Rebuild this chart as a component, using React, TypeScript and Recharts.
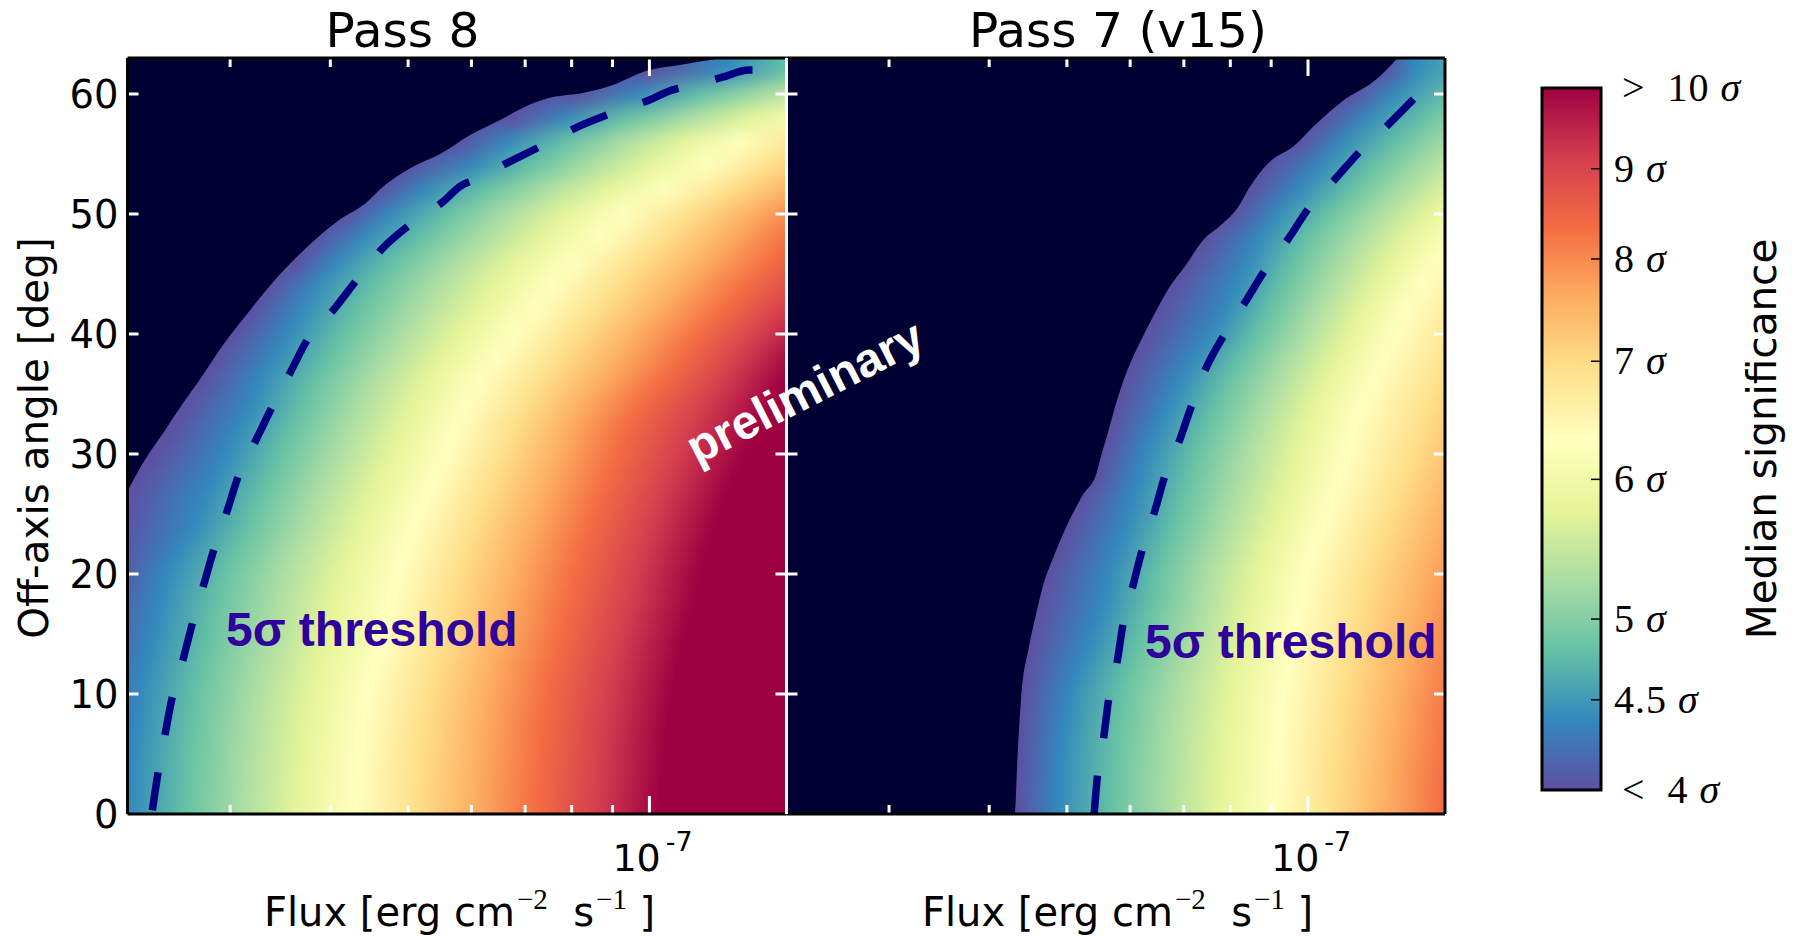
import React from "react";
import {
	ComposedChart,
	XAxis,
	YAxis,
	Area,
	Line,
	ReferenceArea,
	ReferenceLine,
} from "recharts";

// flux is kept as log10(erg cm-2 s-1)
const FLUX_DOMAIN = [-7.651, -6.829];
const ANGLE_MAX = 63;
const MINOR_FLUX = [-7.523, -7.398, -7.301, -7.222, -7.155, -7.097, -7.046];
const MAJOR_FLUX = [-7];
const ANGLE_TICKS = [0, 10, 20, 30, 40, 50, 60];

const SPECTRAL = [
	"#5e4fa2", "#3288bd", "#66c2a5", "#abdda4", "#e6f598", "#ffffbf",
	"#fee08b", "#fdae61", "#f46d43", "#d53e4f", "#9e0142",
];
// which colormap stops lie between two neighbouring contours
const BANDS = [
	[0, 1],
	[1, 2, 3, 4, 5],
	[5, 6, 7, 8],
	[8, 9, 10],
];

const ROW_ANGLES = [
	0, 2, 4, 6, 8, 10, 12, 14, 16, 18, 20, 22, 24, 26, 28, 30,
	32, 34, 36, 38, 40, 42, 44, 46, 48, 50, 52, 54, 56, 58, 60, 62,
];

// Pass 8: flux at which each colour is reached, one value per row
const p8Purple = [
	-7.728, -7.725, -7.722, -7.72, -7.714, -7.709, -7.703, -7.698, -7.689, -7.681, -7.673, -7.668, -7.662, -7.655, -7.639, -7.618,
	-7.599, -7.582, -7.56, -7.543, -7.522, -7.497, -7.475, -7.442, -7.418, -7.379, -7.338, -7.302, -7.239, -7.173, -7.091, -7.0,
];
const p8Blue = [
	-7.651, -7.648, -7.647, -7.644, -7.641, -7.637, -7.632, -7.625, -7.618, -7.612, -7.604, -7.588, -7.569, -7.56, -7.544, -7.531,
	-7.516, -7.5, -7.489, -7.47, -7.453, -7.437, -7.42, -7.393, -7.36, -7.327, -7.283, -7.223, -7.179, -7.107, -7.014, -6.904,
];
const p8Yellow = [
	-7.368, -7.367, -7.364, -7.361, -7.357, -7.352, -7.344, -7.333, -7.327, -7.321, -7.313, -7.304, -7.293, -7.28, -7.268, -7.253,
	-7.242, -7.228, -7.212, -7.19, -7.168, -7.143, -7.121, -7.097, -7.061, -7.033, -6.981, -6.929, -6.888, -6.795, -6.696, -6.602,
];
const p8Orange = [
	-7.143, -7.142, -7.139, -7.137, -7.134, -7.129, -7.124, -7.116, -7.109, -7.102, -7.095, -7.087, -7.077, -7.066, -7.055, -7.044,
	-7.033, -7.014, -6.987, -6.962, -6.94, -6.91, -6.882, -6.849, -6.825, -6.789, -6.74, -6.69, -6.635, -6.575, -6.493, -6.41,
];
const p8Deep = [
	-6.99, -6.987, -6.984, -6.981, -6.977, -6.973, -6.967, -6.96, -6.952, -6.944, -6.938, -6.93, -6.92, -6.91, -6.897, -6.883,
	-6.866, -6.85, -6.833, -6.814, -6.784, -6.751, -6.707, -6.668, -6.63, -6.586, -6.542, -6.498, -6.438, -6.372, -6.3, -6.218,
];

// Pass 7 (v15)
const p7Purple = [
	-7.366, -7.365, -7.364, -7.362, -7.36, -7.358, -7.354, -7.349, -7.343, -7.335, -7.326, -7.314, -7.301, -7.287, -7.267, -7.258,
	-7.248, -7.24, -7.231, -7.219, -7.205, -7.19, -7.172, -7.149, -7.129, -7.095, -7.075, -7.053, -7.012, -6.982, -6.944, -6.905,
];
const p7Blue = [
	-7.314, -7.313, -7.311, -7.309, -7.305, -7.3, -7.289, -7.276, -7.265, -7.256, -7.251, -7.24, -7.229, -7.221, -7.213, -7.204,
	-7.191, -7.177, -7.163, -7.144, -7.122, -7.105, -7.092, -7.078, -7.064, -7.042, -7.012, -6.987, -6.96, -6.93, -6.897, -6.867,
];
const p7Yellow = [
	-7.042, -7.041, -7.04, -7.037, -7.034, -7.031, -7.026, -7.02, -7.015, -7.009, -7.004, -6.993, -6.982, -6.971, -6.96, -6.952,
	-6.944, -6.933, -6.919, -6.905, -6.891, -6.878, -6.858, -6.839, -6.815, -6.787, -6.754, -6.718, -6.677, -6.633, -6.584, -6.529,
];
const p7Orange = [
	-6.834, -6.831, -6.828, -6.824, -6.82, -6.815, -6.808, -6.801, -6.793, -6.784, -6.776, -6.766, -6.755, -6.743, -6.73, -6.713,
	-6.696, -6.683, -6.669, -6.653, -6.636, -6.62, -6.6, -6.581, -6.556, -6.529, -6.496, -6.458, -6.414, -6.37, -6.32, -6.266,
];

// boundary of the 4 sigma region
const p8EdgeFlux = [
	-7.651, -7.632, -7.604, -7.582, -7.563, -7.544, -7.525, -7.511, -7.486, -7.475, -7.423, -7.387, -7.354,
	-7.332, -7.299, -7.261, -7.223, -7.19, -7.146, -7.129, -7.082, -7.052, -7.0, -6.964, -6.909,
];
const p8EdgeAngle = [
	26.9, 29.2, 32, 34.2, 36, 37.9, 39.7, 40.9, 43, 43.9, 47.5, 49.5, 50.9,
	52.3, 53.8, 55, 56.6, 57.7, 59.2, 59.6, 60.1, 60.6, 62, 62.4, 63,
];
const p7EdgeFlux = [
	-7.651, -7.366, -7.363, -7.358, -7.349, -7.341, -7.33, -7.319, -7.302, -7.281, -7.264, -7.258, -7.251, -7.237, -7.223, -7.209,
	-7.193, -7.174, -7.152, -7.13, -7.11, -7.086, -7.075, -7.05, -7.017, -6.99, -6.957, -6.915, -6.888,
];
const p7EdgeAngle = [
	0, 0, 4.2, 9.8, 13.7, 16.2, 19.2, 21.2, 23.9, 26.6, 28.4, 29.9, 31.5, 34.8, 37.4, 39.4,
	41.5, 43.8, 45.8, 47.9, 49, 50.7, 52, 54.2, 55.7, 57.5, 59.4, 61.2, 63,
];

// dashed 5 sigma threshold
const p8ThreshFlux = [
	-7.62, -7.613, -7.604, -7.595, -7.582, -7.57, -7.556, -7.543, -7.527, -7.512, -7.492, -7.47, -7.448, -7.426, -7.393, -7.364,
	-7.332, -7.297, -7.258, -7.234, -7.22, -7.176, -7.134, -7.088, -7.047, -7.0, -6.973, -6.956, -6.909, -6.876, -6.863,
];
const p8ThreshAngle = [
	0.3, 3.4, 6.7, 9.8, 12.8, 15.9, 19.1, 22.1, 25.2, 28.3, 31, 34, 36.8, 39.6, 42.1, 44.6,
	47.2, 49.2, 51, 52.4, 52.8, 54.3, 55.7, 57.3, 58.4, 59.5, 60.3, 60.6, 61.4, 62, 62,
];
const p7ThreshFlux = [
	-7.267, -7.263, -7.255, -7.249, -7.238, -7.231, -7.219, -7.207, -7.192, -7.179, -7.16, -7.145, -7.127, -7.104, -7.079, -7.053,
	-7.025, -6.998, -6.965, -6.934, -6.899, -6.862,
];
const p7ThreshAngle = [
	0, 3.1, 6.4, 9.5, 12.8, 15.8, 18.9, 22, 25.1, 28.1, 31.2, 34.1, 37.2, 40, 42.6, 45.4,
	47.9, 50.6, 53, 55.3, 57.5, 60,
];

// colorbar
const CBAR_TICKS = [4, 4.5, 5, 6, 7, 8, 9, 10];
const CBAR_LABELS = ["< 4", "4.5", "5", "6", "7", "8", "9", "> 10"];
const CBAR_INNER_TICKS = [4.5, 5, 6, 7, 8, 9];

const DEJAVU = "'DejaVu Sans', sans-serif";
const DARK = "#000033";
const THRESH = "#000080";
const LABEL_BLUE = "#2f009b";

const zip = (flux: number[], angle: number[]) =>
	flux.map((f, i) => ({ flux: f, angle: angle[i] }));

function HeatRows({ contours, width }: { contours: number[][]; width: number }) {
	// rows reach past the plot so that the vertical blur has no edge to fade at
	const rows: React.ReactNode[] = [];
	const lastColor = contours.length === 5 ? SPECTRAL[10] : SPECTRAL[8];
	ROW_ANGLES.forEach((angle, i) => {
		const y1 = i === 0 ? -5 : angle - 1;
		const y2 = i === ROW_ANGLES.length - 1 ? 68 : angle + 1;
		const common = { y1, y2, ifOverflow: "visible" as const, stroke: "none", fillOpacity: 1, shapeRendering: "crispEdges" };
		rows.push(
			<ReferenceArea key={`l${i}`} {...common} x1={FLUX_DOMAIN[0] - 0.2} x2={contours[0][i]} fill={SPECTRAL[0]} />
		);
		for (let c = 0; c < contours.length - 1; c++) {
			rows.push(
				<ReferenceArea key={`b${i}-${c}`} {...common} x1={contours[c][i]} x2={contours[c + 1][i]} fill={`url(#band${c})`} />
			);
		}
		const last = contours[contours.length - 1][i];
		rows.push(<ReferenceArea key={`r${i}`} {...common} x1={last} x2={last + 1} fill={lastColor} />);
	});
	return (
		<ComposedChart width={width} height={876} margin={{ top: 0, right: 0, bottom: 0, left: 0 }}>
			<XAxis type="number" dataKey="flux" domain={FLUX_DOMAIN} allowDataOverflow hide />
			<YAxis type="number" domain={[-5, 68]} allowDataOverflow hide />
			{rows}
		</ComposedChart>
	);
}

function FluxTick({ x, y, payload }: any) {
	if (payload.value !== -7) return null;
	return (
		<text x={x - 37} y={y + 49} fontFamily={DEJAVU} fontSize={38} fill="#000">
			10
			<tspan dy={-20} dx={5} fontSize={27}>-7</tspan>
		</text>
	);
}

function frameLines(left: string, right: string) {
	const [xa, xb] = FLUX_DOMAIN;
	const px = (xb - xa) / 659;
	const tick = (pts: any, key: string, stroke = "#fff", w = 3) => (
		<ReferenceLine key={key} segment={pts} stroke={stroke} strokeWidth={w} ifOverflow="visible" />
	);
	return (
		<>
			{MINOR_FLUX.flatMap((f) => [
				tick([{ x: f, y: 0 }, { x: f, y: 0.75 }], `mb${f}`),
				tick([{ x: f, y: ANGLE_MAX }, { x: f, y: ANGLE_MAX - 0.75 }], `mt${f}`),
			])}
			{MAJOR_FLUX.flatMap((f) => [
				tick([{ x: f, y: 0 }, { x: f, y: 1.5 }], `Mb${f}`),
				tick([{ x: f, y: ANGLE_MAX }, { x: f, y: ANGLE_MAX - 1.5 }], `Mt${f}`),
			])}
			{ANGLE_TICKS.slice(1).flatMap((a) => [
				tick([{ x: xa, y: a }, { x: xa + 11 * px, y: a }], `yl${a}`),
				tick([{ x: xb, y: a }, { x: xb - 11 * px, y: a }], `yr${a}`),
			])}
			{tick([{ x: xa, y: ANGLE_MAX }, { x: xb, y: ANGLE_MAX }], "top", "#000", 3)}
			{tick([{ x: xa, y: 0 }, { x: xb, y: 0 }], "bottom", "#000", 3)}
			{tick([{ x: xa, y: 0 }, { x: xa, y: ANGLE_MAX }], "left", left, 3)}
			{tick([{ x: xb, y: 0 }, { x: xb, y: ANGLE_MAX }], "right", right, 3)}
		</>
	);
}

function Panel({ chartLeft, marginLeft, width, edge, thresh, labels, left, right }: any) {
	return (
		<div style={{ position: "absolute", left: chartLeft, top: 0 }}>
			<ComposedChart
				width={marginLeft + 60 + width + 10}
				height={936}
				margin={{ top: 58, right: 10, bottom: 62, left: marginLeft }}
			>
				<XAxis
					type="number"
					dataKey="flux"
					domain={FLUX_DOMAIN}
					allowDataOverflow
					ticks={MAJOR_FLUX}
					height={60}
					axisLine={false}
					tickLine={false}
					tick={<FluxTick />}
					interval={0}
				/>
				<YAxis
					type="number"
					dataKey="angle"
					domain={[0, ANGLE_MAX]}
					allowDataOverflow
					ticks={ANGLE_TICKS}
					width={60}
					axisLine={false}
					tickLine={false}
					tickSize={0}
					tickMargin={9}
					interval={0}
					tick={labels ? { fontFamily: DEJAVU, fontSize: 38.5, fill: "#000" } : false}
				/>
				<Area
					data={edge}
					dataKey="angle"
					baseValue={ANGLE_MAX}
					type="monotoneX"
					stroke="none"
					fill={DARK}
					fillOpacity={1}
					dot={false}
					activeDot={false}
					isAnimationActive={false}
				/>
				<Line
					data={thresh}
					dataKey="angle"
					type="monotoneX"
					stroke={THRESH}
					strokeWidth={7.5}
					strokeDasharray="38.5 38"
					dot={false}
					activeDot={false}
					isAnimationActive={false}
				/>
				{frameLines(left, right)}
			</ComposedChart>
		</div>
	);
}

function CbarTick({ x, y, payload }: any) {
	const label = CBAR_LABELS[CBAR_TICKS.indexOf(payload.value)];
	const outer = label[0] === "<" || label[0] === ">";
	return (
		<text
			x={x + (outer ? 13 : 5)}
			y={y + 13}
			fontFamily="'Liberation Serif', serif"
			fontSize={40}
			letterSpacing={1}
			fill="#000"
			style={{ whiteSpace: "pre" }}
		>
			{label.replace(" ", "  ")}
			<tspan dx={11} fontStyle="italic">σ</tspan>
		</text>
	);
}

function Colorbar() {
	return (
		<div style={{ position: "absolute", left: 1500, top: 60 }}>
			<ComposedChart width={300} height={760} margin={{ top: 28, right: 0, bottom: 30, left: 42 }}>
				<XAxis type="number" dataKey="x" domain={[0, 1]} allowDataOverflow hide />
				<YAxis
					type="number"
					scale="log"
					orientation="right"
					domain={[4, 10]}
					allowDataOverflow
					ticks={CBAR_TICKS}
					interval={0}
					width={199}
					axisLine={false}
					tickLine={false}
					tick={<CbarTick />}
				/>
				<ReferenceArea x1={0} x2={1} y1={4} y2={10} fill="url(#cbar)" fillOpacity={1} stroke="#000" strokeWidth={3} ifOverflow="visible" />
				{CBAR_INNER_TICKS.map((s) => (
					<ReferenceLine key={s} segment={[{ x: 1, y: s }, { x: 0.83, y: s }]} stroke="#000" strokeWidth={1.5} ifOverflow="visible" />
				))}
			</ComposedChart>
		</div>
	);
}

const textBase: React.CSSProperties = { position: "absolute", whiteSpace: "nowrap", color: "#000", lineHeight: 1 };

function FluxLabel({ left }: { left: number }) {
	const sup: React.CSSProperties = { fontFamily: "'Liberation Serif', serif", fontSize: 29, position: "relative", top: -17, marginLeft: 2 };
	return (
		<div style={{ ...textBase, left, top: 892, fontFamily: DEJAVU, fontSize: 40 }}>
			Flux [erg cm<span style={sup}>−2</span>&nbsp; s<span style={sup}>−1</span>&nbsp;]
		</div>
	);
}

export default function App() {
	const boldText: React.CSSProperties = {
		...textBase,
		fontFamily: "'Liberation Sans', sans-serif",
		fontWeight: 700,
		fontSize: 48,
		color: LABEL_BLUE,
	};
	return (
		<div style={{ position: "absolute", left: 0, top: 0, width: 1800, height: 936, background: "#fff", overflow: "hidden" }}>
			<svg width={0} height={0} style={{ position: "absolute" }}>
				<defs>
					{BANDS.map((stops, b) => (
						<linearGradient key={b} id={`band${b}`} x1="0" y1="0" x2="1" y2="0">
							{stops.map((s, i) => (
								<stop key={s} offset={i / (stops.length - 1)} stopColor={SPECTRAL[s]} />
							))}
						</linearGradient>
					))}
					<linearGradient id="cbar" x1="0" y1="1" x2="0" y2="0">
						{SPECTRAL.map((c, i) => (
							<stop key={c} offset={i / 10} stopColor={c} />
						))}
					</linearGradient>
					<filter id="vblur" x="0" y="0" width="1" height="1" colorInterpolationFilters="sRGB">
						<feGaussianBlur stdDeviation="0 9" />
					</filter>
				</defs>
			</svg>

			{/* heat maps, drawn below the axes */}
			<div style={{ position: "absolute", left: 127.5, top: 58, width: 659, height: 756, overflow: "hidden" }}>
				<div style={{ position: "absolute", left: 0, top: -60, filter: "url(#vblur)" }}>
					<HeatRows contours={[p8Purple, p8Blue, p8Yellow, p8Orange, p8Deep]} width={659} />
				</div>
			</div>
			<div style={{ position: "absolute", left: 786.5, top: 58, width: 658.5, height: 756, overflow: "hidden" }}>
				<div style={{ position: "absolute", left: 0, top: -60, filter: "url(#vblur)" }}>
					<HeatRows contours={[p7Purple, p7Blue, p7Yellow, p7Orange]} width={658.5} />
				</div>
			</div>

			<Panel chartLeft={0} marginLeft={67.5} width={659} edge={zip(p8EdgeFlux, p8EdgeAngle)} thresh={zip(p8ThreshFlux, p8ThreshAngle)} labels left="#000" right="#fff" />
			<Panel chartLeft={660} marginLeft={66.5} width={658.5} edge={zip(p7EdgeFlux, p7EdgeAngle)} thresh={zip(p7ThreshFlux, p7ThreshAngle)} labels={false} left="#fff" right="#000" />
			<Colorbar />

			<div style={{ ...textBase, left: 402.5, top: 30, transform: "translate(-50%,-50%)", fontFamily: DEJAVU, fontSize: 48.6 }}>Pass 8</div>
			<div style={{ ...textBase, left: 1118, top: 30, transform: "translate(-50%,-50%)", fontFamily: DEJAVU, fontSize: 48.6 }}>Pass 7 (v15)</div>
			<div style={{ ...textBase, left: 34, top: 438, transform: "translate(-50%,-50%) rotate(-90deg)", fontFamily: DEJAVU, fontSize: 40.5 }}>Off-axis angle [deg]</div>
			<div style={{ ...textBase, left: 1762, top: 439, transform: "translate(-50%,-50%) rotate(-90deg)", fontFamily: DEJAVU, fontSize: 40.5 }}>Median significance</div>
			<FluxLabel left={264} />
			<FluxLabel left={922} />

			<div style={{ ...boldText, left: 226, top: 606 }}>5σ threshold</div>
			<div style={{ ...boldText, left: 1145, top: 618 }}>5σ threshold</div>
			<div style={{ ...boldText, color: "#fff", fontSize: 48, left: 805, top: 392, transform: "translate(-50%,-50%) rotate(-27deg)" }}>preliminary</div>
		</div>
	);
}
